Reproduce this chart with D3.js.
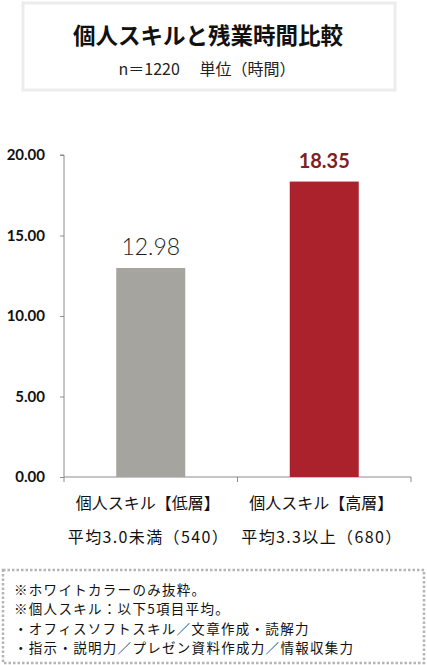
<!DOCTYPE html>
<html>
<head>
<meta charset="utf-8">
<script src="https://cdn.jsdelivr.net/npm/d3@7"></script>
<style>
  html, body { margin: 0; padding: 0; background: #fff; }
  svg { display: block; }
</style>
</head>
<body>
<svg id="chart" width="427" height="665"></svg>
<script>
const title = "個人スキルと残業時間比較";
const subtitle = "n＝1220　 単位（時間）";
const categories = ["低層", "高層"];
const labelLine1 = ["個人スキル【低層】", "個人スキル【高層】"];
const labelLine2 = ["平均3.0未満（540）", "平均3.3以上（680）"];
const values = [12.98, 18.35];
const yTicks = [0, 5, 10, 15, 20];
const notes = [
  "※ホワイトカラーのみ抜粋。",
  "※個人スキル：以下5項目平均。",
  "・オフィスソフトスキル／文章作成・読解力",
  "・指示・説明力／プレゼン資料作成力／情報収集力"
];

const jp = "'Noto Sans CJK JP', 'Noto Sans', sans-serif";
const num = "Lato, 'Noto Sans', sans-serif";
const svg = d3.select("#chart");

// title box
svg.append("rect").attr("x", 23).attr("y", 3).attr("width", 372).attr("height", 87)
  .attr("fill", "#fff").attr("stroke", "#ececec").attr("stroke-width", 3);
svg.append("text").attr("x", 208).attr("y", 44).attr("text-anchor", "middle")
  .attr("font-family", jp).attr("font-weight", 700).attr("font-size", 22.5).attr("fill", "#111")
  .text(title);
svg.append("text").attr("x", 207).attr("y", 75).attr("text-anchor", "middle")
  .attr("font-family", jp).attr("font-size", 16).attr("fill", "#222")
  .text(subtitle);

// scales
const x = d3.scaleBand().domain(categories).range([64, 411]).paddingInner(0).paddingOuter(0);
const y = d3.scaleLinear().domain([0, 20]).range([477, 155]);
const barW = 69;

// y axis
const yAxis = svg.append("g").attr("transform", "translate(64,0)")
  .call(d3.axisLeft(y).tickValues(yTicks).tickSize(4).tickPadding(15).tickFormat(d3.format(".2f")));
yAxis.select(".domain").attr("stroke", "#8c8c8c").attr("d", "M-4,155H0V477");
yAxis.selectAll(".tick line").attr("stroke", "#8c8c8c");
yAxis.selectAll(".tick text").attr("font-family", num).attr("font-weight", 700)
  .attr("font-size", 15).attr("fill", "#111");

// x axis
const xAxis = svg.append("g").attr("transform", "translate(0,477)")
  .call(d3.axisBottom(x).tickSize(0).tickFormat(""));
xAxis.select(".domain").attr("stroke", "#8c8c8c").attr("d", "M64,0H411");
xAxis.selectAll(".tick").remove();
const bounds = [64, 64 + x.bandwidth(), 411];
svg.selectAll("line.xtick").data(bounds).enter().append("line")
  .attr("x1", d => d).attr("x2", d => d).attr("y1", 477).attr("y2", 482)
  .attr("stroke", "#8c8c8c");

// bars
const colors = ["#a5a49e", "#ab222d"];
svg.selectAll("rect.bar").data(values).enter().append("rect")
  .attr("class", "bar")
  .attr("x", (d, i) => x(categories[i]) + x.bandwidth() / 2 - barW / 2)
  .attr("y", d => y(d)).attr("width", barW).attr("height", d => y(0) - y(d))
  .attr("fill", (d, i) => colors[i]);

// value labels
svg.append("text").attr("x", x(categories[0]) + x.bandwidth() / 2).attr("y", y(values[0]) - 13)
  .attr("text-anchor", "middle").attr("font-family", num).attr("font-weight", 300)
  .attr("font-size", 23).attr("fill", "#222").text(values[0].toFixed(2));
svg.append("text").attr("x", x(categories[1]) + x.bandwidth() / 2).attr("y", y(values[1]) - 14)
  .attr("text-anchor", "middle").attr("font-family", num).attr("font-weight", 700)
  .attr("font-size", 20).attr("fill", "#7d1f23").text(values[1].toFixed(2));

// category labels
categories.forEach((c, i) => {
  const cx = x(c) + x.bandwidth() / 2 - 3;
  svg.append("text").attr("x", cx).attr("y", 509).attr("text-anchor", "middle")
    .attr("font-family", jp).attr("font-size", 16).attr("fill", "#111").text(labelLine1[i]);
  svg.append("text").attr("x", cx - 80).attr("y", 543)
    .attr("textLength", 160).attr("lengthAdjust", "spacing")
    .attr("font-family", jp).attr("font-size", 16).attr("fill", "#111").text(labelLine2[i]);
});

// note box
svg.append("rect").attr("x", 3).attr("y", 570).attr("width", 421).attr("height", 93)
  .attr("fill", "#fff").attr("stroke", "#b5b5b5").attr("stroke-width", 2.5)
  .attr("stroke-dasharray", "2.5,2");
svg.selectAll("text.note").data(notes).enter().append("text")
  .attr("class", "note").attr("x", 14).attr("y", (d, i) => 594.5 + i * 19.6)
  .attr("font-family", jp).attr("font-size", 13.5).attr("letter-spacing", 1.3)
  .attr("fill", "#111").text(d => d);
</script>
</body>
</html>
